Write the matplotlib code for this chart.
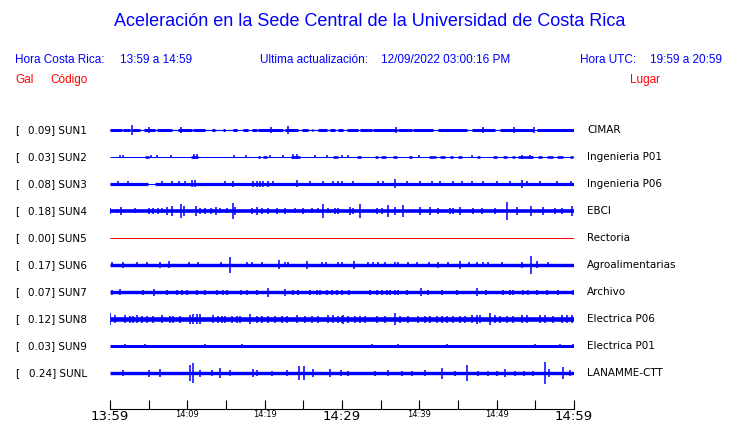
import numpy as np
import matplotlib.pyplot as plt

# estaciones, aceleracion maxima (gal) y lugar
estaciones = ['SUN1', 'SUN2', 'SUN3', 'SUN4', 'SUN5', 'SUN6', 'SUN7', 'SUN8', 'SUN9', 'SUNL']
gal = [0.09, 0.03, 0.08, 0.18, 0.00, 0.17, 0.07, 0.12, 0.03, 0.24]
lugares = ['CIMAR', 'Ingenieria P01', 'Ingenieria P06', 'EBCI', 'Rectoria',
           'Agroalimentarias', 'Archivo', 'Electrica P06', 'Electrica P01', 'LANAMME-CTT']

# ruido de fondo: semiancho de la traza (amplitud relativa) y tramos con ruido
base = [0.6, 0.5, 0.5, 0.0, 0.5, 0.0, 0.0, 0.0, 0.0, 0.0]
tramo_amp = [1.5, 1.3, 1.6, 1.8, 0.0, 1.7, 1.7, 2.3, 1.5, 1.7]

sun1_tramos = [(0, 1.51), (1.73, 2.59), (2.80, 3.88), (4.44, 5.82), (6.03, 7.97), (8.84, 10.56),
               (10.78, 12.29), (13.15, 13.58), (14.66, 14.87), (15.95, 16.38), (17.24, 17.80),
               (18.32, 18.96), (19.18, 22.41), (22.63, 24.35), (24.78, 25.64), (26.08, 26.29),
               (26.94, 28.02), (28.45, 29.10), (29.53, 30.17), (30.6, 32.11), (32.33, 33.84),
               (34.05, 37.07), (37.29, 39.01), (39.23, 41.81), (42.46, 46.12), (46.77, 49.79),
               (50.43, 54.74), (55.17, 60)]
sun2_tramos = [(4.53, 5.04), (10.48, 11.42), (19.10, 19.40), (19.83, 20.26), (23.40, 24.57),
               (28.80, 29.53), (31.9, 32.5), (34.26, 34.7), (35.1, 35.75), (36.6, 37.07),
               (38.6, 39.0), (41.2, 42.2), (42.65, 43.3), (43.96, 44.4), (45.05, 45.48),
               (47.41, 47.84), (49.57, 50.0), (50.86, 51.3), (51.94, 52.37), (52.8, 54.74),
               (55.4, 55.83), (56.5, 57.3), (57.8, 58.6), (59.5, 59.9)]
sun3_tramos = [(0, 4.96), (5.82, 60)]
completo = [(0, 60)]
tramos = [sun1_tramos, sun2_tramos, sun3_tramos, completo, [], completo,
          completo, completo, completo, completo]

# picos: minuto desde 13:59 y semiamplitud
sun1_t = [2.80, 5.09, 9.18, 20.82, 22.97, 36.98, 48.19, 52.24, 54.87]
sun1_a = [5, 3, 3, 3, 4, 3, 3, 3, 3]
sun2_t = [1.29, 1.72, 5.26, 6.12, 7.89, 10.8, 11.2, 16.08, 17.59, 20.69, 22.41, 23.6, 24.2,
          26.51, 28.02, 29.96, 30.82, 39.96, 46.77, 53.3, 54.3]
sun2_a = [1.5, 1.5, 1.5, 1.5, 1.5, 2.5, 2.5, 1.5, 1.5, 1.5, 1.5, 2.5, 2.5,
          1.5, 1.5, 1.5, 1.5, 1.5, 1.5, 2, 2]
sun3_t = [1.08, 2.37, 6.68, 7.97, 8.92, 9.70, 10.65, 11.0, 14.87, 15.95, 18.53, 18.96, 19.40,
          19.83, 20.48, 21.12, 24.22, 25.86, 27.59, 28.88, 29.53, 30.04, 31.47, 34.7, 35.35,
          36.86, 38.37, 40.09, 41.6, 42.68, 44.4, 45.48, 46.77, 48.28, 50.0, 51.73, 53.32,
          53.88, 55.61, 57.76, 59.57]
sun3_a = [2.5, 2.5, 2.5, 2.5, 2.5, 2.5, 3.5, 3.5, 2.5, 3, 3, 3, 3,
          3, 3, 2.5, 3.5, 2.5, 2.5, 2.5, 2.5, 2.5, 2.5, 2.5, 2.5,
          4.5, 2.5, 2.5, 2.5, 2.5, 2.5, 2.5, 2.5, 2.5, 2.5, 2.5, 4,
          2.5, 2.5, 2.5, 2.5]
sun4_t = [0.0, 0.86, 1.38, 3.23, 5.04, 5.6, 6.16, 6.68, 7.33, 8.06, 9.18, 9.53, 11.08, 11.64,
          12.29, 13.06, 13.71, 14.22, 15.09, 15.95, 16.16, 18.4, 18.96, 19.7, 20.48, 21.55,
          22.63, 23.92, 25.0, 26.08, 26.94, 27.59, 28.15, 29.1, 29.53, 31.03, 31.47, 32.33,
          34.48, 35.13, 35.99, 36.86, 37.93, 40.09, 41.38, 42.46, 43.96, 44.4, 45.26, 46.98,
          48.06, 49.78, 51.38, 52.59, 54.4, 56.04, 57.55, 58.41, 59.7]
sun4_a = [3, 2, 4, 2.5, 3, 3, 3, 2.5, 4, 5, 7, 5, 5, 3,
          3, 3, 4, 2.5, 2.5, 8, 4, 3, 4, 3, 3, 3,
          3, 2.5, 3, 2.5, 2.5, 7, 2.5, 3, 3, 4, 3, 7,
          3, 3, 6, 4, 6, 4, 4, 3, 3, 3, 4, 3,
          3, 3, 9, 4, 5, 4, 3, 3, 5]
sun6_t = [0.22, 1.72, 3.54, 4.83, 6.46, 7.67, 10.22, 11.34, 14.36, 15.56, 17.67, 18.32, 19.61,
          21.85, 22.63, 22.97, 25.43, 27.37, 27.93, 29.53, 30.04, 31.55, 33.4, 34.05, 34.7,
          35.56, 36.86, 37.29, 38.58, 39.74, 41.3, 42.46, 43.75, 45.26, 46.42, 47.41, 48.28,
          48.92, 50.73, 53.24, 54.45, 55.17, 56.68]
sun6_a = [2.5, 3, 2.5, 2.5, 3, 3.5, 2.5, 2.5, 2.5, 8, 2.5, 2.5, 2.5,
          4.5, 2.5, 2.5, 4, 2.5, 2.5, 2.5, 2.5, 4, 2.5, 2.5, 2.5,
          2.5, 2.5, 2.5, 2.5, 2.5, 2.5, 3, 2.5, 4, 2.5, 2.5, 2.5,
          2.5, 2.5, 3, 9, 3.5, 2.5]
sun7_t = [0.22, 1.29, 4.31, 5.69, 7.33, 8.62, 9.35, 9.91, 11.29, 12.29, 13.8, 14.66, 15.09,
          16.9, 17.76, 18.96, 20.48, 22.63, 23.7, 24.27, 25.86, 26.72, 27.16, 28.02, 28.66,
          29.31, 30.04, 30.91, 33.62, 34.48, 35.13, 35.77, 36.2, 36.86, 37.29, 38.37, 40.18,
          41.17, 42.98, 44.83, 47.41, 48.57, 50.86, 51.73, 52.16, 53.45, 54.1, 55.17, 56.55,
          57.97, 59.91]
sun7_a = [2.5, 3, 2.5, 3.5, 2.5, 2.5, 2.5, 2.5, 2.5, 2.5, 2.5, 2.5, 2.5,
          2.5, 2.5, 2.5, 4.5, 3.5, 2.5, 2.5, 2.5, 2.5, 2.5, 2.5, 2.5,
          2.5, 2.5, 2.5, 2.5, 2.5, 2.5, 2.5, 2.5, 2.5, 2.5, 2.5, 4,
          2.5, 2.5, 2.5, 4, 2.5, 2.5, 2.5, 2.5, 2.5, 2.5, 2.5, 2.5,
          2.5, 2.5]
sun8_t = [0.0, 0.65, 1.94, 2.59, 3.02, 3.45, 4.09, 4.74, 5.6, 6.68, 7.76, 8.19, 9.05, 10.35,
          10.78, 11.21, 11.64, 13.36, 14.01, 14.44, 14.87, 15.73, 16.38, 16.81, 18.1, 18.96,
          19.61, 20.48, 21.34, 22.2, 22.84, 24.14, 25.21, 26.08, 26.94, 28.23, 28.88, 29.53,
          30.04, 30.17, 30.82, 31.68, 32.33, 32.98, 34.48, 35.56, 36.86, 37.5, 38.58, 39.87,
          40.74, 41.38, 42.24, 42.89, 43.54, 44.4, 45.26, 45.91, 46.77, 47.41, 47.84, 49.14,
          49.78, 50.43, 51.3, 52.16, 53.24, 53.88, 55.61, 56.25, 57.33, 58.41, 59.05, 59.7]
sun8_a = [6, 4, 4, 3.5, 3.5, 4, 3.5, 3.5, 3.5, 4, 3.5, 3.5, 3.5, 4.5,
          5, 5, 5, 4, 3.5, 3.5, 3.5, 3.5, 3.5, 3.5, 5, 3.5,
          3.5, 3.5, 3.5, 3.5, 3.5, 4, 3.5, 3.5, 3.5, 4, 4, 3.5,
          3.5, 4.5, 3.5, 3.5, 3.5, 3.5, 3.5, 3.5, 6, 3.5, 3.5, 3.5,
          3.5, 3.5, 3.5, 3.5, 3.5, 3.5, 3.5, 3.5, 4, 4.5, 4, 6,
          4, 3.5, 3.5, 3.5, 4, 4, 4, 4, 3.5, 4, 4, 4]
sun9_t = [1.94, 4.53, 12.29, 17.02, 33.84, 37.29, 43.54, 54.96, 58.2, 59.9]
sun9_a = [2, 2, 2, 2, 2, 2, 2, 2, 2, 2]
sunl_t = [1.67, 5.04, 6.46, 10.3, 10.78, 11.64, 13.15, 14.27, 15.52, 18.53, 19.05, 20.91, 22.93,
          24.48, 25.13, 26.29, 28.45, 29.83, 30.82, 34.26, 35.99, 37.72, 39.01, 40.74, 42.98,
          44.61, 46.12, 47.63, 48.92, 50.0, 51.08, 52.37, 53.53, 54.74, 56.25, 56.81, 58.54,
          59.48]
sunl_a = [3, 3.5, 4, 8, 10, 3.5, 3, 5, 3, 4, 3, 2.5, 3,
          7, 7, 4, 4, 3, 2.5, 2.5, 3, 2.5, 2.5, 3, 5.5,
          2.5, 8, 2.5, 2.5, 2.5, 4, 2.5, 2.5, 2.5, 11, 4, 6,
          3]
picos_t = [sun1_t, sun2_t, sun3_t, sun4_t, [], sun6_t, sun7_t, sun8_t, sun9_t, sunl_t]
picos_a = [sun1_a, sun2_a, sun3_a, sun4_a, [], sun6_a, sun7_a, sun8_a, sun9_a, sunl_a]

ticks = [0, 5, 10, 15, 20, 25, 30, 35, 40, 45, 50, 55, 60]
tick_labels = ['13:59', '', '14:09', '', '14:19', '', '14:29', '', '14:39', '', '14:49', '', '14:59']

AZUL = '#0000ff'
ROJO = '#ff0000'
W, H = 740, 423
esc = 1 / 27.0  # amplitud relativa -> separacion entre trazas

fig = plt.figure(figsize=(W / 100, H / 100), dpi=100)
ax = fig.add_axes([110 / W, 1 - 409 / H, 464 / W, 291 / H])
ax.set_xlim(0, 60)
ax.set_ylim(-1.333, 9.444)

for i in range(len(estaciones)):
    y = 9 - i
    col = ROJO if gal[i] == 0 else AZUL
    if base[i] > 0:
        ax.hlines(y, 0, 60, color=col, lw=2 * base[i] * 0.72)
    for t0, t1 in tramos[i]:
        ax.hlines(y, t0, t1, color=col, lw=2 * tramo_amp[i] * 0.72)
    if picos_t[i]:
        a = np.array(picos_a[i]) * esc
        ax.vlines(picos_t[i], y - a, y + a, color=col, lw=1.1)

    fig.text(15 / W, 1 - (130 + 27 * i) / H, '[', fontsize=7.5, va='center', family='DejaVu Sans')
    fig.text(87 / W, 1 - (130 + 27 * i) / H, '%.2f] %s' % (gal[i], estaciones[i]),
             fontsize=7.5, va='center', ha='right', family='DejaVu Sans')
    fig.text(587 / W, 1 - (130 + 27 * i) / H, lugares[i], fontsize=7.5, va='center',
             family='DejaVu Sans')

for s in ['top', 'left', 'right']:
    ax.spines[s].set_visible(False)
ax.spines['bottom'].set_linewidth(0.8)
ax.set_yticks([])
ax.set_xticks(ticks, tick_labels)
ax.tick_params(axis='x', direction='in', length=6.5, width=0.8, pad=1)
for k, lab in enumerate(ax.get_xticklabels()):
    lab.set_fontsize(9.5 if ticks[k] % 30 == 0 else 6)

# encabezado
hdr = dict(family='Liberation Sans', va='center')
fig.text(370 / W, 1 - 22 / H, 'Aceleración en la Sede Central de la Universidad de Costa Rica',
         ha='center', fontsize=13, color=AZUL, **hdr)
fig.text(15 / W, 1 - 60 / H, 'Hora Costa Rica:', fontsize=8.5, color=AZUL, **hdr)
fig.text(120 / W, 1 - 60 / H, '13:59 a 14:59', fontsize=8.5, color=AZUL, **hdr)
fig.text(260 / W, 1 - 60 / H, 'Ultima actualización:', fontsize=8.5, color=AZUL, **hdr)
fig.text(381 / W, 1 - 60 / H, '12/09/2022 03:00:16 PM', fontsize=8.5, color=AZUL, **hdr)
fig.text(580 / W, 1 - 60 / H, 'Hora UTC:', fontsize=8.5, color=AZUL, **hdr)
fig.text(650 / W, 1 - 60 / H, '19:59 a 20:59', fontsize=8.5, color=AZUL, **hdr)
fig.text(15 / W, 1 - 80 / H, 'Gal', fontsize=8.5, color=ROJO, **hdr)
fig.text(50 / W, 1 - 80 / H, 'Código', fontsize=8.5, color=ROJO, **hdr)
fig.text(630 / W, 1 - 80 / H, 'Lugar', fontsize=8.5, color=ROJO, **hdr)

fig.savefig('out.png', dpi=100)
